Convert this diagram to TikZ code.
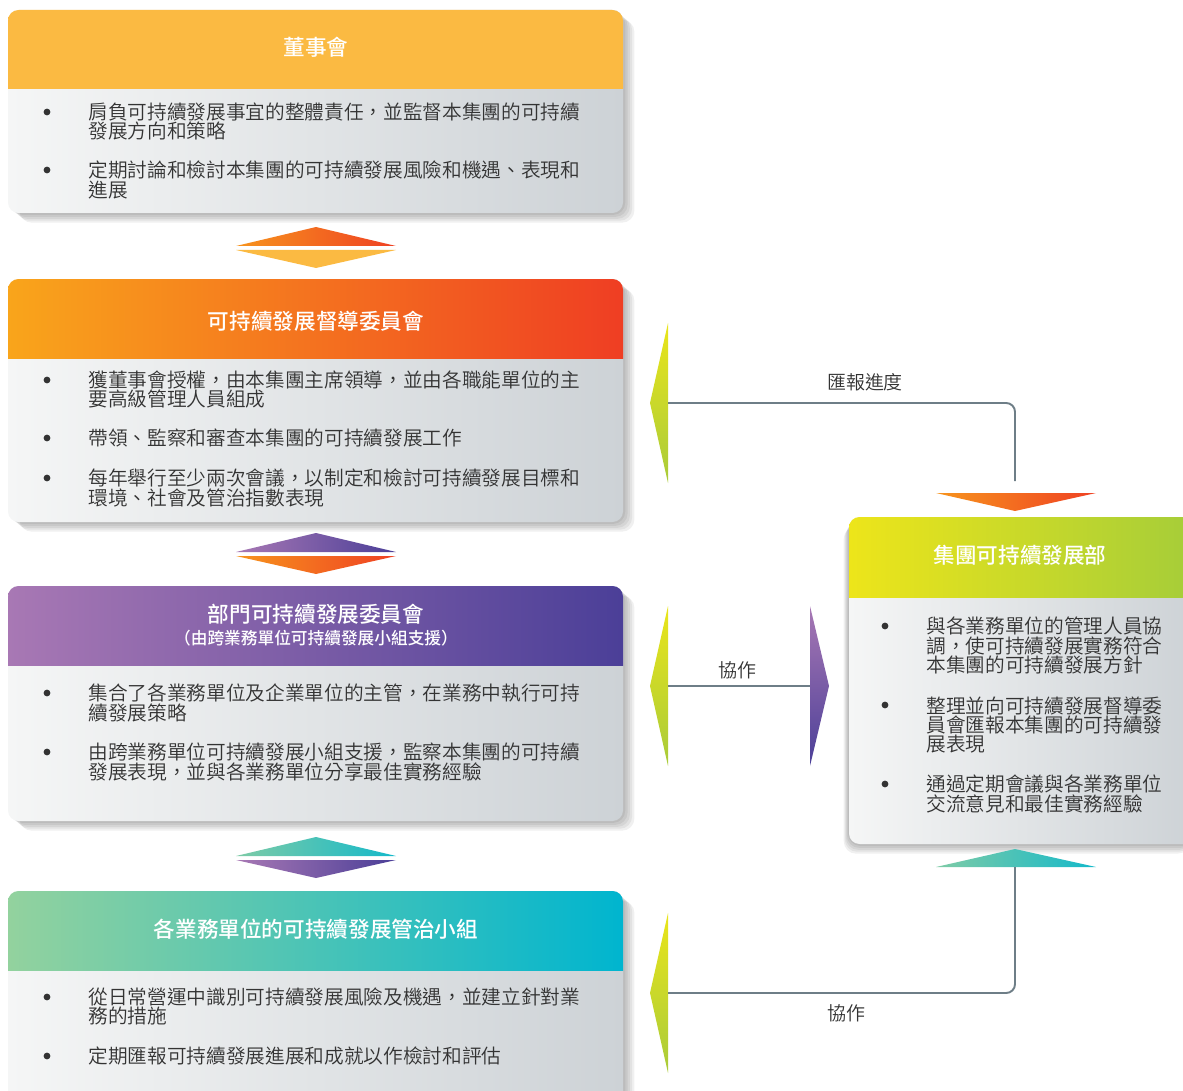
\documentclass[tikz,border=0pt]{standalone}
\usepackage{fontspec}
\setmainfont{Noto Sans CJK TC}
\newfontfamily\tcmed{Noto Sans CJK TC Medium}
\newfontfamily\tclight{Noto Sans CJK TC DemiLight}
\usetikzlibrary{positioning}
\definecolor{hdyel}{HTML}{FBBA42}
\definecolor{orl}{HTML}{F7941D}
\definecolor{orr}{HTML}{EF4123}
\definecolor{hdorl}{HTML}{F9A51B}
\definecolor{hdorr}{HTML}{EF3E23}
\definecolor{pul}{HTML}{A878B4}
\definecolor{pur}{HTML}{4B3F98}
\definecolor{hdtel}{HTML}{93D29E}
\definecolor{hdter}{HTML}{00B5CF}
\definecolor{tel}{HTML}{7ECBA6}
\definecolor{ter}{HTML}{14B9CA}
\definecolor{grl}{HTML}{EDE51A}
\definecolor{grr}{HTML}{A5CD39}
\definecolor{bodyl}{HTML}{F5F6F6}
\definecolor{bodyr}{HTML}{CDD2D6}
\definecolor{txtc}{HTML}{333333}
\definecolor{linkc}{HTML}{6E7E87}
\definecolor{sidet}{HTML}{EAE51A}
\definecolor{sideb}{HTML}{A9CB3A}
\begin{document}
\begin{tikzpicture}[x=0.02cm, y=-0.02cm,
		body/.style = {left color=bodyl, right color=bodyr, rounded corners=6pt},
		shad/.style = {fill=black, opacity=0.06, rounded corners=7pt},
		grad/.style 2 args = {left color=#1, right color=#2},
		vgrad/.style 2 args = {top color=#1, bottom color=#2},
		ttl/.style = {text=white, font=\fontsize{12.3}{14}\selectfont\tcmed},
		subttl/.style = {text=white, font=\fontsize{9.5}{11}\selectfont\tcmed},
		item/.style = {anchor=west, align=left, inner sep=0pt, text=txtc, font=\fontsize{11.2}{11}\selectfont\tclight},
		lbl/.style = {text=txtc, font=\fontsize{10.8}{12}\selectfont\tclight},
		link/.style = {draw=linkc, line width=1.1pt, rounded corners=5pt}]
	\useasboundingbox (0,0) rectangle (1183,1091);
	% boxes on the left
	\foreach \yt/\yh/\yb/\cl/\cr in {10/89/213/hdyel/hdyel, 279/358/522/hdorl/hdorr, 586/665/821/pul/pur, 891/970/1110/hdtel/hdter} {
		\foreach \s in {1,...,5}
			\fill[shad, xshift=1.3*\s pt, yshift=-1.1*\s pt] (8,\yt) rectangle (623,\yb);
		\path[body] (8,\yt) rectangle (623,\yb);
		\begin{scope}
			\clip[rounded corners=6pt] (8,\yt) rectangle (623,\yb);
			\shade[grad={\cl}{\cr}] (8,\yt) rectangle (623,\yh);
		\end{scope}
	}
	% box on the right
	\foreach \s in {1,...,5}
		\fill[shad, xshift=-0.6*\s pt, yshift=-1.1*\s pt] (849,517) rectangle (1195,844);
	\path[body] (849,517) rectangle (1195,844);
	\begin{scope}
		\clip[rounded corners=6pt] (849,517) rectangle (1195,844);
		\shade[grad={grl}{grr}] (849,517) rectangle (1195,597);
	\end{scope}
	% double arrows between boxes
	\foreach \y/\ua/\ub/\da/\db in {227/orl/orr/hdyel/hdyel, 533/pul/pur/orl/orr, 837/tel/ter/pul/pur} {
		\shade[grad={\ua}{\ub}] (236,\y+19) -- (316,\y) -- (396,\y+19) -- cycle;
		\shade[grad={\da}{\db}] (236,\y+23) -- (396,\y+23) -- (316,\y+41) -- cycle;
	}
	% titles
	\node[ttl] (t1) at (316,47) {董事會};
	\node[ttl] (t2) at (316,321) {可持續發展督導委員會};
	\node[ttl] (t3) at (316,614) {部門可持續發展委員會};
	\node[subttl] (t3s) at (316,638) {（由跨業務單位可持續發展小組支援）};
	\node[ttl] (t4) at (316,929) {各業務單位的可持續發展管治小組};
	\node[ttl] (tr) at (1020,555) {集團可持續發展部};
	% bullets
	\foreach \x/\y in {47/112, 47/170, 47/380, 47/438, 47/478, 47/693, 47/752, 47/997, 47/1056, 885/626, 885/705, 885/784}
		\fill[txtc] (\x,\y) circle (3.4);
	% items
	\node[item] (a1) at (88,121.5) {肩負可持續發展事宜的整體責任，並監督本集團的可持續\\發展方向和策略};
	\node[item] (a2) at (88,180) {定期討論和檢討本集團的可持續發展風險和機遇、表現和\\進展};
	\node[item] (b1) at (88,389.5) {獲董事會授權，由本集團主席領導，並由各職能單位的主\\要高級管理人員組成};
	\node[item] (b2) at (88,438) {帶領、監察和審查本集團的可持續發展工作};
	\node[item] (b3) at (88,488) {每年舉行至少兩次會議，以制定和檢討可持續發展目標和\\環境、社會及管治指數表現};
	\node[item] (c1) at (88,703) {集合了各業務單位及企業單位的主管，在業務中執行可持\\續發展策略};
	\node[item] (c2) at (88,762) {由跨業務單位可持續發展小組支援，監察本集團的可持續\\發展表現，並與各業務單位分享最佳實務經驗};
	\node[item] (d1) at (88,1006.5) {從日常營運中識別可持續發展風險及機遇，並建立針對業\\務的措施};
	\node[item] (d2) at (88,1056) {定期匯報可持續發展進展和成就以作檢討和評估};
	\node[item] (r1) at (926,645.5) {與各業務單位的管理人員協\\調，使可持續發展實務符合\\本集團的可持續發展方針};
	\node[item] (r2) at (926,725) {整理並向可持續發展督導委\\員會匯報本集團的可持續發\\展表現};
	\node[item] (r3) at (926,794) {通過定期會議與各業務單位\\交流意見和最佳實務經驗};
	% side arrowheads
	\foreach \y in {403,686,993}
		\shade[vgrad={sidet}{sideb}] (668,\y-80) -- (650,\y) -- (668,\y+80) -- cycle;
	\shade[vgrad={pul}{pur}] (810,606) -- (829,686) -- (810,766) -- cycle;
	\shade[grad={orl}{orr}] (936,493) -- (1096,493) -- (1015,511) -- cycle;
	\shade[grad={tel}{ter}] (936,867) -- (1015,849) -- (1096,867) -- cycle;
	% connectors
	\coordinate (s1) at (668,403);
	\coordinate (s2) at (668,686);
	\coordinate (s3) at (668,993);
	\coordinate (p2) at (810,686);
	\coordinate (e1) at (1015,481);
	\coordinate (e3) at (1015,867);
	\draw[link] (s1) -| (e1);
	\draw[link] (s2) -- (p2);
	\draw[link] (e3) |- (s3);
	\node[lbl] (l1) at (865,382) {匯報進度};
	\node[lbl] (l2) at (737,670) {協作};
	\node[lbl] (l3) at (846,1013) {協作};
\end{tikzpicture}
\end{document}
